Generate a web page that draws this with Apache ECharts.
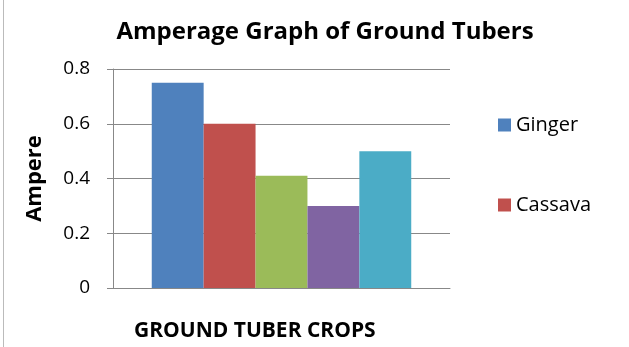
<!DOCTYPE html>
<html lang="en">
<head>
    <meta charset="UTF-8">
    <title>Amperage Graph of Ground Tubers</title>
    <style>
        html, body { margin: 0; padding: 0; background: #fff; }
    </style>
</head>
<body>
<div id="echart" style="width: 629px; height: 347px;"></div>

<script src="https://cdn.jsdelivr.net/npm/echarts@6/dist/echarts.min.js"></script>
<script>
    var dom = document.getElementById("echart");
    var myChart = echarts.init(dom);

    // data
    var categories = [''];
    var seriesNames = ['Ginger', 'Cassava', 'Yam', 'Potato', 'Cocoyam'];
    var seriesValues = [[0.75], [0.6], [0.41], [0.3], [0.5]];
    var legendNames = ['Ginger', 'Cassava'];
    var colors = ['#4f81bd', '#c0504d', '#9bbb59', '#8064a2', '#4bacc6'];
    var font = '"Open Sans", sans-serif';

    var series = [];
    for (var i = 0; i < seriesNames.length; i++) {
        series.push({
            name: seriesNames[i],
            type: 'bar',
            data: seriesValues[i],
            barGap: 0,
            barCategoryGap: '23%',
            itemStyle: { color: colors[i] }
        });
    }

    var option = {
        animation: false,
        color: colors,
        title: {
            text: 'Amperage Graph of Ground Tubers',
            left: 320,
            textAlign: 'center',
            top: 15,
            textStyle: { fontFamily: font, fontSize: 24, fontWeight: 'bold', color: '#000' }
        },
        legend: {
            data: legendNames,
            orient: 'vertical',
            left: 493,
            top: 110,
            itemGap: 60,
            itemWidth: 13,
            itemHeight: 13,
            icon: 'rect',
            textStyle: { fontFamily: font, fontSize: 20, color: '#000' }
        },
        grid: { left: 113, right: 179, top: 69, bottom: 59 },
        xAxis: {
            type: 'category',
            data: categories,
            axisLine: { lineStyle: { color: '#888' } },
            axisTick: { show: false },
            axisLabel: { show: false }
        },
        yAxis: {
            type: 'value',
            min: 0,
            max: 0.8,
            interval: 0.2,
            name: 'Ampere',
            nameLocation: 'middle',
            nameGap: 67,
            nameTextStyle: { fontFamily: font, fontSize: 22, fontWeight: 'bold', color: '#000' },
            axisLine: { show: true, lineStyle: { color: '#888' } },
            axisTick: { show: true, length: 6, lineStyle: { color: '#888' } },
            axisLabel: { fontFamily: font, fontSize: 19, color: '#000', margin: 23 },
            splitLine: { lineStyle: { color: '#888' } }
        },
        graphic: [
            {
                type: 'line',
                shape: { x1: 3.5, y1: 0, x2: 3.5, y2: 347 },
                style: { stroke: '#bbb', lineWidth: 1 }
            },
            {
                type: 'text',
                left: 134,
                top: 321,
                style: { text: 'GROUND TUBER CROPS', fontFamily: font, fontSize: 21, fontWeight: 'bold', fill: '#000' }
            }
        ],
        series: series
    };
    myChart.setOption(option, true);
</script>
</body>
</html>
